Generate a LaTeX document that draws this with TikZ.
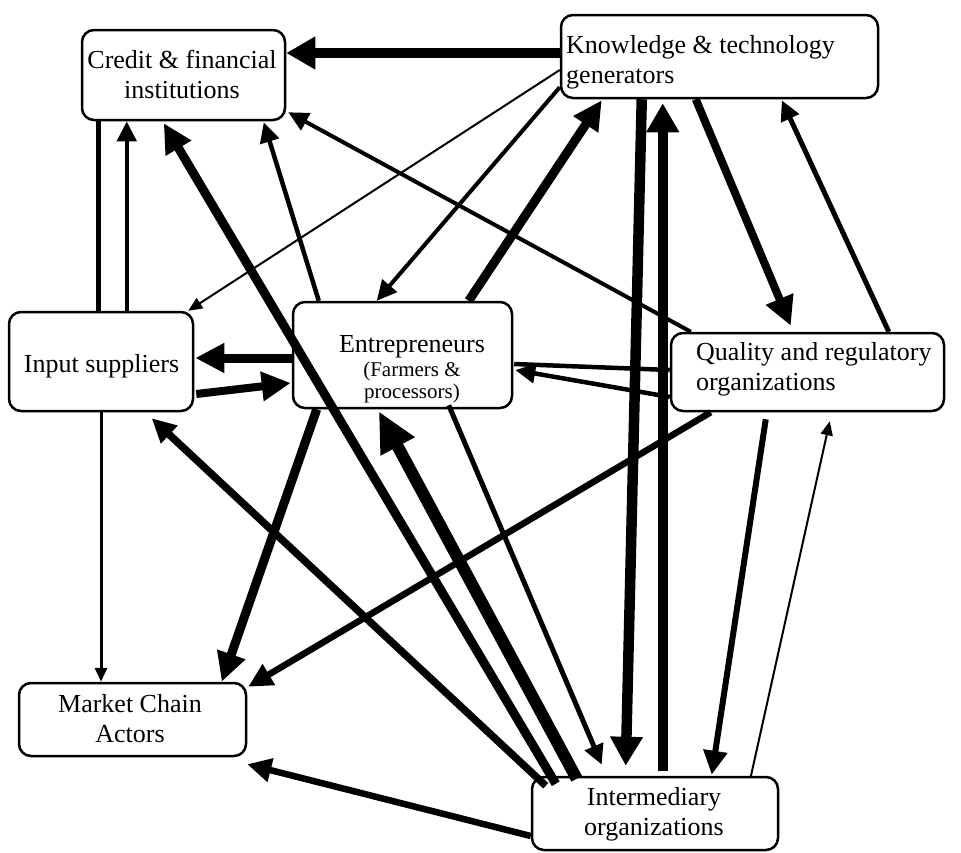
\documentclass[tikz,border=0pt]{standalone}
\usepackage{fontspec}
\setmainfont{Liberation Serif}
\usetikzlibrary{arrows.meta,calc}
\begin{document}
\begin{tikzpicture}[x=1pt,y=-1pt,
  box/.style={draw, fill=white, line width=2.5pt, rounded corners=12pt, inner sep=0pt},
  txt/.style={inner sep=0pt, font=\fontsize{26}{30}\selectfont},
  small/.style={inner sep=0pt, font=\fontsize{21}{22}\selectfont},
  plain/.style={line width=#1},
  w1/.style={line width=2.5pt, -{Triangle[length=14pt,width=12pt]}},
  w2/.style={line width=4.5pt, -{Triangle[length=20pt,width=19pt]}},
  w3/.style={line width=6.5pt, -{Triangle[length=24pt,width=23pt]}},
  w4/.style={line width=9pt, -{Triangle[length=29pt,width=28pt]}},
  w5/.style={line width=10.5pt, -{Triangle[length=29pt,width=31pt]}},
  w6/.style={line width=12pt, -{Triangle[length=40pt,width=36pt]}}
]
\path[fill=white] (0,0) rectangle (961,852);
\useasboundingbox (0,0) rectangle (961,852);

% actor boxes
\node[box, minimum width=203pt, minimum height=90pt] (credit)  at (183.5,75)  {};
\node[box, minimum width=317pt, minimum height=83pt] (know)    at (719.5,56.5) {};
\node[box, minimum width=184pt, minimum height=99pt] (input)   at (101,361.5) {};
\node[box, minimum width=219pt, minimum height=106pt] (entre)  at (402.5,355) {};
\node[box, minimum width=273pt, minimum height=78pt] (quality) at (807.5,372) {};
\node[box, minimum width=227pt, minimum height=73pt] (market)  at (132.5,719.5) {};
\node[box, minimum width=246pt, minimum height=73pt] (inter)   at (655,813.5) {};

% links
\draw[w5] ($(know.west)+(0,-3.5)$) -- ($(credit.east)+(0,-22)$);
\draw[plain=5pt] ($(credit.south west)+(18,0)$) -- ($(input.north west)+(91,0)$);
\draw[w2] ($(input.north west)+(119,0)$) -- ($(credit.south west)+(46,0)$);
\draw[w2] ($(entre.north west)+(27,0)$) -- ($(credit.south west)+(183,1)$);
\draw[w2, line width=4pt] ($(quality.north west)+(21,0)$) -- ($(credit.south east)+(2,-9)$);
\draw[w1, line width=2pt] ($(know.west)+(0,13.5)$) -- ($(input.north east)+(-6,0)$);
\draw[w2, line width=4pt] ($(know.south west)+(0,-12)$) -- ($(entre.north west)+(85,0)$);
\draw[w4] ($(entre.north west)+(177,0)$) -- ($(know.south west)+(42,1)$);
\draw[w5] ($(know.south west)+(82,0)$) -- ($(inter.north west)+(95,-10)$);
\draw[w5] ($(inter.north west)+(132,-5)$) -- ($(know.south west)+(103,4)$);
\draw[w4, line width=8pt] ($(know.south west)+(136,0)$) -- ($(quality.north west)+(121,-6)$);
\draw[w2, line width=5pt] ($(quality.north west)+(219,0)$) -- ($(know.south west)+(222,1)$);
\draw[w4] ($(entre.west)+(0,3)$) -- ($(input.east)+(1,-3.5)$);
\draw[w4, line width=8pt] ($(input.east)+(2,32.5)$) -- ($(entre.west)+(-1,28)$);
\draw[plain=4.5pt] ($(quality.west)+(0,-2)$) -- ($(entre.east)+(1,9)$);
\draw[w2] ($(quality.west)+(0,25)$) -- ($(entre.east)+(2,15)$);
\draw[w4] ($(entre.south west)+(25,0)$) -- ($(market.north west)+(204,0)$);
\draw[w3] ($(quality.south west)+(41,0)$) -- ($(market.north east)+(1,5)$);
\draw[w3, line width=7.5pt] ($(inter.north west)+(15,10)$) -- ($(input.south west)+(144,6)$);
\draw[w4] ($(inter.north west)+(25,8)$) -- ($(credit.south west)+(83,2)$);
\draw[w6] ($(inter.north west)+(46,3)$) -- ($(entre.south west)+(87,2)$);
\draw[w2, line width=5pt] ($(entre.south west)+(157,-4)$) -- ($(inter.north west)+(71,-11)$);
\draw[w3, line width=6pt] ($(quality.south west)+(96,7)$) -- ($(inter.north west)+(181,-1)$);
\draw[w1, line width=2pt] ($(inter.north west)+(220,1)$) -- ($(quality.south west)+(160,9)$);
\draw[w3] ($(inter.west)+(0,22.5)$) -- ($(market.south east)+(0,7)$);
\draw[w1, line width=3pt] (input.south -| 101,0) -- (market.north -| 101,0);

% labels
\node[txt, anchor=base] (credit-t) at (182,68)
  {\begin{tabular}[t]{@{}c@{}}Credit \& financial\\ institutions\end{tabular}};
\node[txt, anchor=base west] (know-t) at (566,53)
  {\begin{tabular}[t]{@{}l@{}}Knowledge \& technology\\ generators\end{tabular}};
\node[txt, anchor=base] (input-t) at (101.5,372) {Input suppliers};
\node[txt, anchor=base] (entre-t) at (412,352) {Entrepreneurs};
\node[small, anchor=base] (entre-s) at (412,376)
  {\begin{tabular}[t]{@{}c@{}}(Farmers \&\\ processors)\end{tabular}};
\node[txt, anchor=base west] (quality-t) at (696,360)
  {\begin{tabular}[t]{@{}l@{}}Quality and regulatory\\ organizations\end{tabular}};
\node[txt, anchor=base] (market-t) at (130,712)
  {\begin{tabular}[t]{@{}c@{}}Market Chain\\ Actors\end{tabular}};
\node[txt, anchor=base] (inter-t) at (654,805)
  {\begin{tabular}[t]{@{}c@{}}Intermediary\\ organizations\end{tabular}};
\end{tikzpicture}
\end{document}
